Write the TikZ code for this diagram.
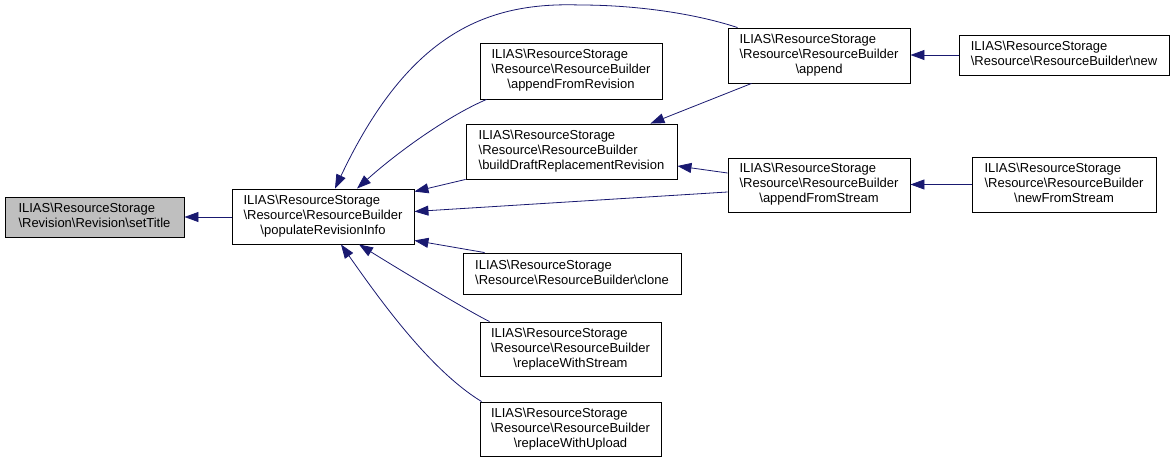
\documentclass[tikz,border=0pt]{standalone}
\usepackage{fontspec}
\setmainfont{Liberation Sans}
\usepackage{xcolor}
\usepackage{tikz}
\usetikzlibrary{arrows.meta, calc}
\definecolor{edgeblue}{HTML}{191970}
\definecolor{curgray}{HTML}{BFBFBF}
\newcommand{\bs}{\textbackslash}
\newcommand{\fnlabel}[2]{\begin{tabular}{@{}l@{}}#1\\\multicolumn{1}{@{}c@{}}{#2}\end{tabular}}

\begin{document}
\begin{tikzpicture}[x=1pt,y=1pt,
    fn/.style={draw=black, line width=0.9pt, inner sep=0pt, font=\fontsize{13}{15}\selectfont},
    call/.style={draw=edgeblue, line width=0.8pt, -{Triangle[length=14pt,width=10pt]}}]
    \def\ns{ILIAS\bs ResourceStorage}
    \def\rb{\bs Resource\bs ResourceBuilder}

    \useasboundingbox (0,0) rectangle (1175,-462);

    \node[fn, fill=curgray, minimum width=179pt, minimum height=40pt] (setTitle) at (94.5,-217)
        {\fnlabel{\ns}{\bs Revision\bs Revision\bs setTitle}};
    \node[fn, minimum width=182pt, minimum height=55pt] (populate) at (323,-216.5)
        {\fnlabel{\ns\\\rb}{\bs populateRevisionInfo}};

    \node[fn, minimum width=182pt, minimum height=56pt] (fromRevision) at (571,-71)
        {\fnlabel{\ns\\\rb}{\bs appendFromRevision}};
    \node[fn, minimum width=211pt, minimum height=55pt] (buildDraft) at (571.5,-151.5)
        {\fnlabel{\ns\\\rb}{\bs buildDraftReplacementRevision}};
    \node[fn, minimum width=218pt, minimum height=41pt] (clone) at (572,-273.5)
        {\fnlabel{\ns}{\rb\bs clone}};
    \node[fn, minimum width=181pt, minimum height=54pt] (withStream) at (570.5,-349)
        {\fnlabel{\ns\\\rb}{\bs replaceWithStream}};
    \node[fn, minimum width=181pt, minimum height=54pt] (withUpload) at (570.5,-429)
        {\fnlabel{\ns\\\rb}{\bs replaceWithUpload}};

    \node[fn, minimum width=182pt, minimum height=55pt] (append) at (819,-55.5)
        {\fnlabel{\ns\\\rb}{\bs append}};
    \node[fn, minimum width=182pt, minimum height=54pt] (fromStream) at (819,-185)
        {\fnlabel{\ns\\\rb}{\bs appendFromStream}};

    \node[fn, minimum width=210pt, minimum height=40pt] (new) at (1064,-55)
        {\fnlabel{\ns}{\rb\bs new}};
    \node[fn, minimum width=184pt, minimum height=55pt] (newStream) at (1064,-184.5)
        {\fnlabel{\ns\\\rb}{\bs newFromStream}};

    \draw[call] (populate.west |- setTitle.east) -- (setTitle.east);

    \draw[call] ([xshift=10pt]append.north west) .. controls (690,-12) and (630,-5) .. (580,-5)
        .. controls (490,-2) and (410,-30) .. ([xshift=12pt]populate.north);
    \draw[call] ([xshift=7pt]fromRevision.south west) .. controls (450,-115) and (400,-150) .. ([xshift=34pt]populate.north);
    \draw[call] (buildDraft.south west) -- ([yshift=-3pt]populate.north east);
    \draw[call] ([yshift=-7pt]fromStream.west) -- ([yshift=5pt]populate.east);
    \draw[call] ([xshift=22pt]clone.north west) -- ([yshift=4pt]populate.south east);
    \draw[call] ([xshift=10pt]withStream.north west) .. controls (470,-312) and (400,-270) .. ([xshift=36pt]populate.south);
    \draw[call] ([xshift=2pt]withUpload.north west) .. controls (430,-370) and (380,-300) .. ([xshift=18pt]populate.south);

    \draw[call] ([xshift=24pt]append.south west) -- ([xshift=-27pt]buildDraft.north east);
    \draw[call] ([yshift=12pt]fromStream.west) -- ([yshift=-14.5pt]buildDraft.east);

    \draw[call] (new.west) -- (new.west -| append.east);
    \draw[call] (newStream.west) -- (newStream.west -| fromStream.east);
\end{tikzpicture}
\end{document}
